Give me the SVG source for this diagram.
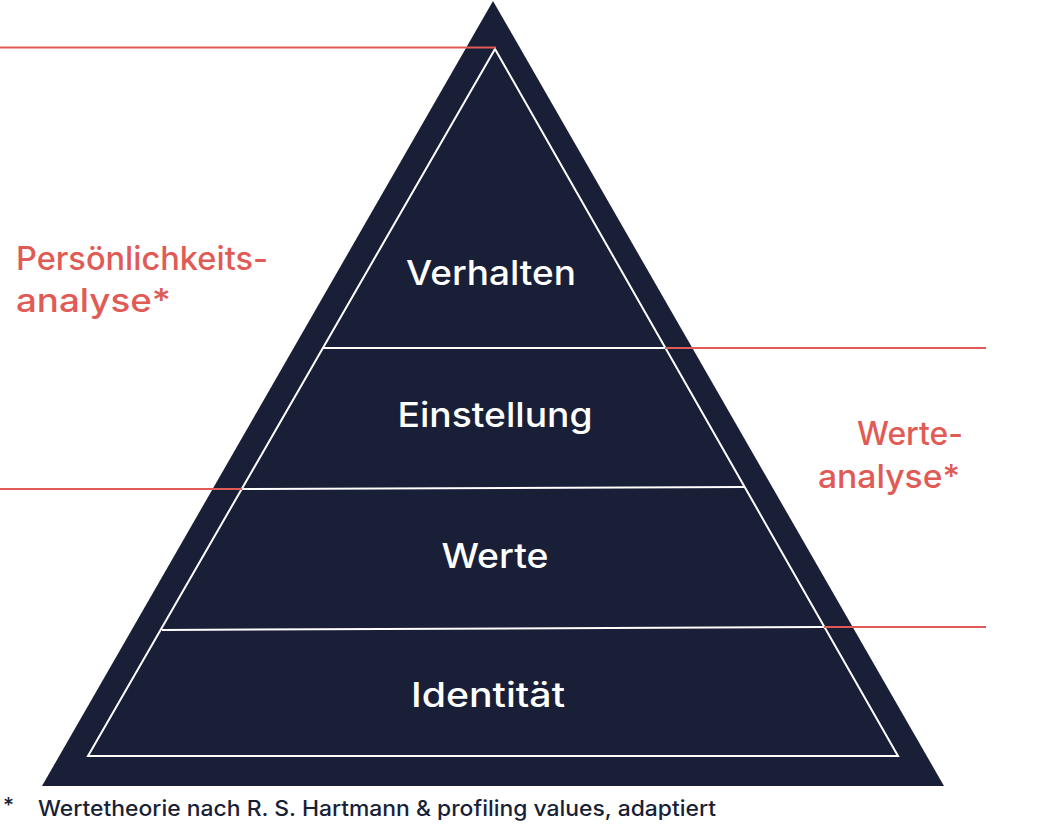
<svg xmlns="http://www.w3.org/2000/svg" width="1052" height="827" viewBox="0 0 1052 827">
<style>
text{font-family:Inter,"Open Sans","Noto Sans",sans-serif;font-weight:500}
.lvl{font-size:34px;fill:#ffffff;text-anchor:middle}
.red{font-size:32px;fill:#e05b55}
.foot{font-size:21px;fill:#1a1f38}
.wl{stroke:#ffffff;stroke-width:2;fill:none}
.rl{stroke:#e05b55;stroke-width:2;fill:none}
</style>
<rect width="1052" height="827" fill="#ffffff"/>
<g id="pyramid">
<polygon points="493,1 944,786 42,786" fill="#1a1f38"/>
<polygon class="wl" points="495,49 898,756 88,756"/>
</g>
<g id="dividers">
<line class="wl" x1="323" y1="348" x2="665" y2="348"/>
<line class="wl" x1="242" y1="489" x2="744" y2="487"/>
<line class="wl" x1="162" y1="630" x2="824" y2="627"/>
</g>
<g id="connectors">
<line class="rl" x1="0" y1="47.5" x2="496" y2="47.5"/>
<line class="rl" x1="665" y1="348" x2="986" y2="348"/>
<line class="rl" x1="0" y1="489" x2="242" y2="489"/>
<line class="rl" x1="824" y1="627" x2="986" y2="627"/>
</g>
<g id="level-verhalten"><text class="lvl" x="491" y="285" textLength="170" lengthAdjust="spacingAndGlyphs">Verhalten</text></g>
<g id="level-einstellung"><text class="lvl" x="495" y="427" textLength="195" lengthAdjust="spacingAndGlyphs">Einstellung</text></g>
<g id="level-werte"><text class="lvl" x="495" y="568" textLength="107" lengthAdjust="spacingAndGlyphs">Werte</text></g>
<g id="level-identitaet"><text class="lvl" x="488" y="707" textLength="154" lengthAdjust="spacingAndGlyphs">Identität</text></g>
<g id="label-persoenlichkeit">
<text class="red" x="16" y="270" textLength="252" lengthAdjust="spacingAndGlyphs">Persönlichkeits-</text>
<text class="red" x="16" y="312" textLength="155" lengthAdjust="spacingAndGlyphs">analyse*</text>
</g>
<g id="label-werteanalyse">
<text class="red" x="857" y="445" textLength="106" lengthAdjust="spacingAndGlyphs">Werte-</text>
<text class="red" x="818" y="488" textLength="142" lengthAdjust="spacingAndGlyphs">analyse*</text>
</g>
<g id="footnote">
<text class="foot" x="3" y="813">*</text>
<text class="foot" x="38" y="816" textLength="678" lengthAdjust="spacingAndGlyphs">Wertetheorie nach R. S. Hartmann &amp; profiling values, adaptiert</text>
</g>
</svg>
